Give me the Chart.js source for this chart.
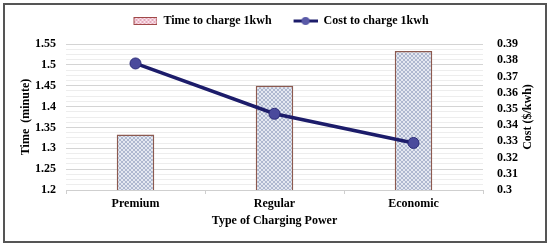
<!DOCTYPE html>
<html>
<head>
<meta charset="utf-8">
<script src="https://cdn.jsdelivr.net/npm/chart.js@4"></script>
<style>
    body { margin: 0; background: #fff; }
    #frame {
        position: absolute; left: 3px; top: 3px;
        width: 540px; height: 236px;
        border: 2px solid #555;
    }
</style>
</head>
<body>
<div id="frame"><canvas id="chart" width="540" height="236"></canvas></div>
<script>
// Chart data
const categories = ['Premium', 'Regular', 'Economic'];
const timeValues = [1.333, 1.45, 1.533];   // minutes, left axis
const costValues = [0.378, 0.347, 0.329];  // $/kwh, right axis

const FONT = 'Liberation Serif';
const NAVY = '#1c1c6a';

// Dotted fill for the bars
function makePattern(c1, c2) {
    const p = document.createElement('canvas');
    p.width = 4; p.height = 4;
    const pc = p.getContext('2d');
    pc.fillStyle = c2;
    pc.fillRect(0, 0, 4, 4);
    pc.fillStyle = c1;
    pc.fillRect(0, 0, 2, 2);
    pc.fillRect(2, 2, 2, 2);
    return document.getElementById('chart').getContext('2d').createPattern(p, 'repeat');
}

// Legend swatches (leading blank space gives the gap between entries)
const SW_LEAD = 12;
function barSwatch() {
    const c = document.createElement('canvas');
    c.width = 24 + SW_LEAD; c.height = 8;
    const x = c.getContext('2d');
    x.fillStyle = makePattern('#e6a9bd', '#f8e4ea');
    x.fillRect(SW_LEAD, 0, 24, 8);
    x.strokeStyle = '#a04848';
    x.lineWidth = 1;
    x.strokeRect(SW_LEAD + 0.5, 0.5, 23, 7);
    return c;
}

function lineSwatch() {
    const c = document.createElement('canvas');
    c.width = 24 + SW_LEAD; c.height = 10;
    const x = c.getContext('2d');
    x.strokeStyle = NAVY;
    x.lineWidth = 3;
    x.beginPath(); x.moveTo(SW_LEAD, 5); x.lineTo(SW_LEAD + 24, 5); x.stroke();
    x.fillStyle = '#5a5aa8';
    x.beginPath(); x.arc(SW_LEAD + 12, 5, 4, 0, Math.PI * 2); x.fill();
    return c;
}

const isMajor = v => Math.abs(Math.round(v / 0.05) * 0.05 - v) < 1e-6;

// Makes the legend box a little taller so the plot starts lower
const legendSpace = {
    id: 'legendSpace',
    beforeLayout(chart) {
        const lg = chart.legend;
        if (lg && !lg._patched) {
            const fit = lg.fit;
            lg.fit = function() { fit.call(this); this.height += 7; };
            lg._patched = true;
        }
    }
};

// Right axis title reads bottom-to-top like the left one
const rightTitle = {
    id: 'rightTitle',
    afterDraw(chart) {
        const s = chart.scales.y1;
        const c = chart.ctx;
        c.save();
        c.translate(s.right - 17, (chart.chartArea.top + chart.chartArea.bottom) / 2);
        c.rotate(-Math.PI / 2);
        c.font = 'bold 12px "' + FONT + '"';
        c.fillStyle = '#000';
        c.textAlign = 'center';
        c.textBaseline = 'middle';
        c.fillText('Cost ($/kwh)', 0, 0);
        c.restore();
    }
};

const ctx = document.getElementById('chart').getContext('2d');
new Chart(ctx, {
    data: {
        labels: categories,
        datasets: [
            {
                type: 'line',
                label: 'Cost to charge 1kwh',
                data: costValues,
                yAxisID: 'y1',
                borderColor: NAVY,
                borderWidth: 3.5,
                pointRadius: 5.5,
                pointBackgroundColor: '#4a4a9c',
                pointBorderColor: '#2a2a78',
                pointBorderWidth: 1,
                order: 0
            },
            {
                type: 'bar',
                label: 'Time to charge 1kwh',
                data: timeValues,
                yAxisID: 'y',
                backgroundColor: makePattern('#aeb8d0', '#e4e8f1'),
                borderColor: '#8c5a50',
                borderWidth: 1.5,
                barPercentage: 0.27,
                categoryPercentage: 1,
                order: 1
            }
        ]
    },
    plugins: [legendSpace, rightTitle],
    options: {
        responsive: false,
        animation: false,
        layout: { padding: { top: 0, left: 0, right: 0, bottom: 0 } },
        plugins: {
            tooltip: { enabled: false },
            legend: {
                display: true,
                reverse: true,
                labels: {
                    color: '#000',
                    font: { family: FONT, size: 12, weight: 'bold' },
                    usePointStyle: true,
                    pointStyleWidth: 24 + SW_LEAD,
                    padding: 10,
                    generateLabels: function(chart) {
                        return chart.data.datasets.map((ds, i) => ({
                            text: ds.label,
                            pointStyle: ds.type === 'bar' ? barSwatch() : lineSwatch(),
                            fillStyle: 'transparent',
                            strokeStyle: 'transparent',
                            lineWidth: 0,
                            hidden: false,
                            datasetIndex: i
                        }));
                    }
                }
            }
        },
        scales: {
            x: {
                grid: { drawOnChartArea: false, offset: true, tickLength: 4, color: '#cfcfcf' },
                border: { color: '#cfcfcf' },
                ticks: { color: '#000', font: { family: FONT, size: 12, weight: 'bold' }, padding: 3 },
                title: {
                    display: true,
                    text: 'Type of Charging Power',
                    color: '#000',
                    font: { family: FONT, size: 12, weight: 'bold' },
                    padding: { top: 2, bottom: 13 }
                },
                afterFit: s => { s.height = 51; }
            },
            y: {
                position: 'left',
                min: 1.2,
                max: 1.55,
                border: { display: false },
                grid: {
                    color: c => isMajor(c.tick.value) ? '#d4d4d4' : '#ededed',
                    drawTicks: false
                },
                ticks: {
                    stepSize: 0.0125,
                    autoSkip: false,
                    padding: 10,
                    color: '#000',
                    font: { family: FONT, size: 12, weight: 'bold' },
                    callback: v => isMajor(v) ? String(parseFloat(v.toFixed(2))) : ''
                },
                title: {
                    display: true,
                    text: 'Time  (minute)',
                    color: '#000',
                    font: { family: FONT, size: 12, weight: 'bold' },
                    padding: { top: 14, bottom: 0 }
                },
                afterFit: s => { s.width = 61; }
            },
            y1: {
                position: 'right',
                min: 0.3,
                max: 0.39,
                border: { display: false },
                grid: { drawOnChartArea: false, drawTicks: false },
                ticks: {
                    stepSize: 0.01,
                    autoSkip: false,
                    padding: 14,
                    color: '#000',
                    font: { family: FONT, size: 12, weight: 'bold' },
                    callback: v => String(parseFloat(v.toFixed(2)))
                },
                afterFit: s => { s.width = 62; }
            }
        }
    }
});
</script>
</body>
</html>
